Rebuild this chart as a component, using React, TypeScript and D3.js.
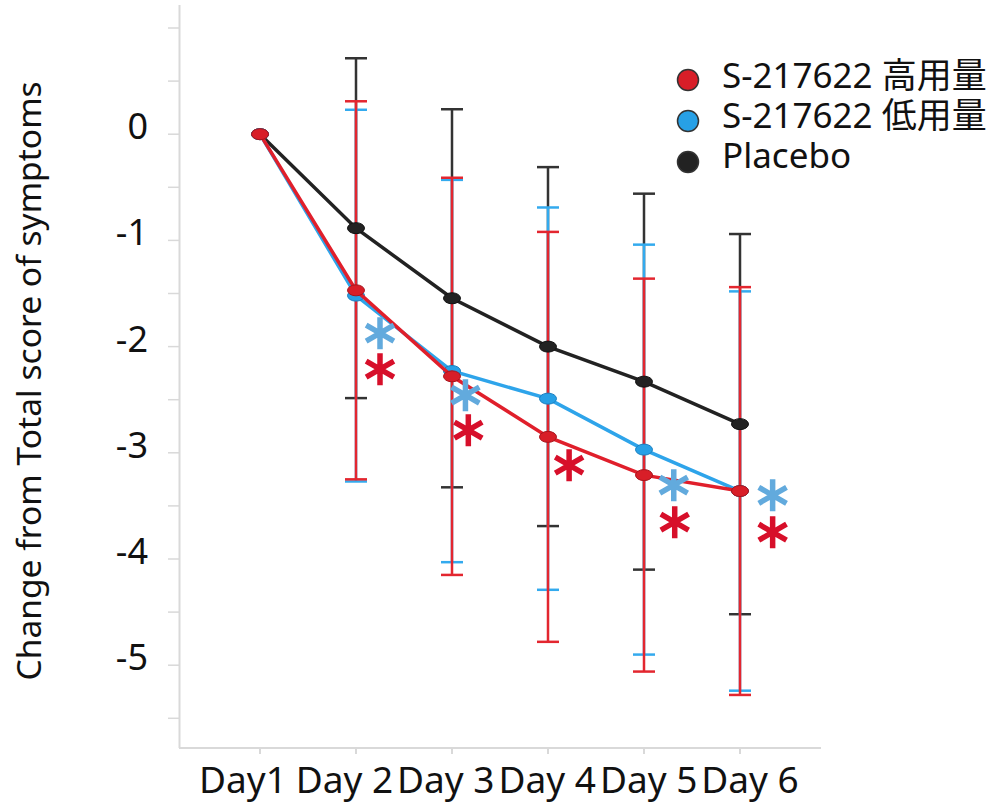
import React from "react";
import * as d3 from "d3";

const days = ["Day1", "Day 2", "Day 3", "Day 4", "Day 5", "Day 6"];
const seriesNames = ["S-217622 高用量", "S-217622 低用量", "Placebo"];
const highMean = [0, -1.47, -2.28, -2.85, -3.21, -3.36];
const highSD = [0, 1.78, 1.87, 1.93, 1.85, 1.92];
const lowMean = [0, -1.52, -2.23, -2.49, -2.97, -3.36];
const lowSD = [0, 1.75, 1.8, 1.8, 1.93, 1.88];
const placeboMean = [0, -0.885, -1.545, -2.0, -2.33, -2.73];
const placeboSD = [0, 1.6, 1.78, 1.69, 1.77, 1.79];
const yTickLabels = [0, -1, -2, -3, -4, -5];
// significance marks (series index, x position in day-index units, y value)
const sigSeries = [1, 1, 1, 1, 0, 0, 0, 0, 0];
const sigDay = [1.25, 2.14, 4.31, 5.34, 1.25, 2.17, 3.22, 4.32, 5.34];
const sigValue = [-1.874, -2.458, -3.305, -3.4, -2.213, -2.787, -3.117, -3.653, -3.748];

const FONT = "'Noto Sans', 'Noto Sans CJK JP', sans-serif";

const lineColors = ["#e01f2b", "#2ea4ea", "#222222"];
const pointFill = ["#d81e28", "#27a0e6", "#222222"];
const pointStroke = ["#a8141c", "#1a7fc0", "#111111"];
const errColors = ["#e3262f", "#33aaee", "#333333"];
const starColors = ["#d70f2a", "#62aadd"];

export default function App() {
  const y = d3.scaleLinear().domain([1, -5.5]).range([28, 718.3]);
  const x = d3.scaleLinear().domain([0, 5]).range([260, 740]);
  const labelX = d3.scalePoint<string>().domain(days).range([243, 750]);

  const means = [highMean, lowMean, placeboMean];
  const sds = [highSD, lowSD, placeboSD];
  const line = d3
    .line<number>()
    .x((_, i) => x(i))
    .y((d) => y(d));

  const minorTicks = d3.range(1, -5.51, -0.5);
  const drawOrder = [2, 1, 0];

  const starPath = (cx: number, cy: number, r: number) => {
    let p = "";
    [90, 30, -30].forEach((a) => {
      const rad = (a * Math.PI) / 180;
      const dx = r * Math.cos(rad);
      const dy = r * Math.sin(rad);
      p += `M${cx - dx},${cy - dy}L${cx + dx},${cy + dy}`;
    });
    return p;
  };

  return (
    <svg
      width={988}
      height={803}
      style={{ position: "absolute", left: 0, top: 0, background: "#fff" }}
      fontFamily={FONT}
    >
      {/* axes */}
      <line x1={179.5} x2={179.5} y1={5} y2={748} stroke="#d9d9d9" strokeWidth={2} />
      <line x1={179} x2={821} y1={748} y2={748} stroke="#d9d9d9" strokeWidth={2} />
      {minorTicks.map((t) => (
        <line key={"yt" + t} x1={168} x2={179} y1={y(t)} y2={y(t)} stroke="#d9d9d9" strokeWidth={1.5} />
      ))}
      {days.map((d, i) => (
        <line key={"xt" + d} x1={x(i)} x2={x(i)} y1={748} y2={754} stroke="#d9d9d9" strokeWidth={2} />
      ))}
      {yTickLabels.map((t) => (
        <text key={"yl" + t} x={148} y={y(t) + 5} textAnchor="end" fontSize={36} fill="#111">
          {t}
        </text>
      ))}
      {days.map((d) => (
        <text key={"xl" + d} x={labelX(d)} y={793} textAnchor="middle" fontSize={37} fill="#111">
          {d}
        </text>
      ))}
      <text
        transform={`translate(41,381) rotate(-90)`}
        textAnchor="middle"
        fontSize={33.6}
        fill="#111"
      >
        Change from Total score of symptoms
      </text>

      {/* error bars */}
      {drawOrder.map((s) =>
        means[s].map((m, i) =>
          i === 0 ? null : (
            <g key={"eb" + s + "-" + i} stroke={errColors[s]} strokeWidth={2.5}>
              <line x1={x(i)} x2={x(i)} y1={y(m + sds[s][i])} y2={y(m - sds[s][i])} />
              <line x1={x(i) - 11} x2={x(i) + 11} y1={y(m + sds[s][i])} y2={y(m + sds[s][i])} />
              <line x1={x(i) - 11} x2={x(i) + 11} y1={y(m - sds[s][i])} y2={y(m - sds[s][i])} />
            </g>
          )
        )
      )}

      {/* lines and points */}
      {drawOrder.map((s) => (
        <g key={"ln" + s}>
          <path d={line(means[s]) || ""} fill="none" stroke={lineColors[s]} strokeWidth={3.5} />
          {means[s].map((m, i) => (
            <ellipse
              key={i}
              cx={x(i)}
              cy={y(m)}
              rx={8.5}
              ry={5.5}
              fill={pointFill[s]}
              stroke={pointStroke[s]}
              strokeWidth={1}
            />
          ))}
        </g>
      ))}

      {/* significance asterisks */}
      {sigSeries.map((s, k) => (
        <path
          key={"sig" + k}
          d={starPath(x(sigDay[k]), y(sigValue[k]), 16)}
          stroke={starColors[s === 0 ? 0 : 1]}
          strokeWidth={5.5}
          fill="none"
        />
      ))}

      {/* legend */}
      {seriesNames.map((n, i) => (
        <g key={"lg" + i}>
          <circle cx={688} cy={80 + i * 41} r={10.5} fill={pointFill[i]} stroke="#333" strokeWidth={1.5} />
          <text x={722} y={88 + i * 40} fontSize={35} fill="#111">
            {n}
          </text>
        </g>
      ))}
    </svg>
  );
}
